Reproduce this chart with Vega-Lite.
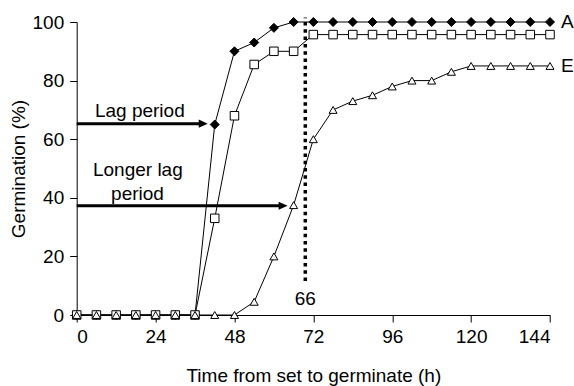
{
  "$schema": "https://vega.github.io/schema/vega-lite/v6.json",
  "width": 473.3,
  "height": 293,
  "autosize": {"type": "none"},
  "padding": {"left": 76.7, "top": 22, "right": 24, "bottom": 71},
  "background": "white",
  "config": {
    "view": {"stroke": null},
    "font": "Liberation Sans",
    "axis": {
      "grid": false,
      "domainColor": "black",
      "domainWidth": 1,
      "tickColor": "black",
      "tickWidth": 1,
      "tickSize": 7,
      "labelColor": "black",
      "labelFont": "Liberation Sans",
      "labelFontSize": 19,
      "titleColor": "black",
      "titleFont": "Liberation Sans",
      "titleFontSize": 19,
      "titleFontWeight": "normal"
    }
  },
  "datasets": {
    "series": [
      {"series": "A", "t": 0, "g": 0}, {"series": "A", "t": 6, "g": 0}, {"series": "A", "t": 12, "g": 0}, {"series": "A", "t": 18, "g": 0}, {"series": "A", "t": 24, "g": 0}, {"series": "A", "t": 30, "g": 0}, {"series": "A", "t": 36, "g": 0},
      {"series": "A", "t": 42, "g": 65}, {"series": "A", "t": 48, "g": 90}, {"series": "A", "t": 54, "g": 93}, {"series": "A", "t": 60, "g": 98}, {"series": "A", "t": 66, "g": 100},
      {"series": "A", "t": 72, "g": 100}, {"series": "A", "t": 78, "g": 100}, {"series": "A", "t": 84, "g": 100}, {"series": "A", "t": 90, "g": 100}, {"series": "A", "t": 96, "g": 100}, {"series": "A", "t": 102, "g": 100}, {"series": "A", "t": 108, "g": 100}, {"series": "A", "t": 114, "g": 100}, {"series": "A", "t": 120, "g": 100}, {"series": "A", "t": 126, "g": 100}, {"series": "A", "t": 132, "g": 100}, {"series": "A", "t": 138, "g": 100}, {"series": "A", "t": 144, "g": 100},
      {"series": "B", "t": 0, "g": 0}, {"series": "B", "t": 6, "g": 0}, {"series": "B", "t": 12, "g": 0}, {"series": "B", "t": 18, "g": 0}, {"series": "B", "t": 24, "g": 0}, {"series": "B", "t": 30, "g": 0}, {"series": "B", "t": 36, "g": 0},
      {"series": "B", "t": 42, "g": 33}, {"series": "B", "t": 48, "g": 68}, {"series": "B", "t": 54, "g": 85.5}, {"series": "B", "t": 60, "g": 90}, {"series": "B", "t": 66, "g": 90},
      {"series": "B", "t": 72, "g": 95.7}, {"series": "B", "t": 78, "g": 95.7}, {"series": "B", "t": 84, "g": 95.7}, {"series": "B", "t": 90, "g": 95.7}, {"series": "B", "t": 96, "g": 95.7}, {"series": "B", "t": 102, "g": 95.7}, {"series": "B", "t": 108, "g": 95.7}, {"series": "B", "t": 114, "g": 95.7}, {"series": "B", "t": 120, "g": 95.7}, {"series": "B", "t": 126, "g": 95.7}, {"series": "B", "t": 132, "g": 95.7}, {"series": "B", "t": 138, "g": 95.7}, {"series": "B", "t": 144, "g": 95.7},
      {"series": "E", "t": 0, "g": 0}, {"series": "E", "t": 6, "g": 0}, {"series": "E", "t": 12, "g": 0}, {"series": "E", "t": 18, "g": 0}, {"series": "E", "t": 24, "g": 0}, {"series": "E", "t": 30, "g": 0}, {"series": "E", "t": 36, "g": 0}, {"series": "E", "t": 42, "g": 0}, {"series": "E", "t": 48, "g": 0},
      {"series": "E", "t": 54, "g": 4.5}, {"series": "E", "t": 60, "g": 20}, {"series": "E", "t": 66, "g": 37.5}, {"series": "E", "t": 72, "g": 60}, {"series": "E", "t": 78, "g": 70}, {"series": "E", "t": 84, "g": 73}, {"series": "E", "t": 90, "g": 75}, {"series": "E", "t": 96, "g": 78}, {"series": "E", "t": 102, "g": 80}, {"series": "E", "t": 108, "g": 80}, {"series": "E", "t": 114, "g": 83}, {"series": "E", "t": 120, "g": 85},
      {"series": "E", "t": 126, "g": 85}, {"series": "E", "t": 132, "g": 85}, {"series": "E", "t": 138, "g": 85}, {"series": "E", "t": 144, "g": 85}
    ],
    "marker": [{"t": 69.55, "g": 11.6, "g2": 101.5, "label": "66", "gl": 3.4}],
    "arrows": [
      {"t": 0, "t2": 38.5, "g": 65.3},
      {"t": 0, "t2": 62.8, "g": 37.3}
    ],
    "notes": [
      {"t": 19.2, "g": 67.7, "text": "Lag period"},
      {"t": 18.6, "g": 47.4, "text": "Longer lag"},
      {"t": 18.5, "g": 39.2, "text": "period"}
    ],
    "ends": [
      {"t": 144, "g": 100, "text": "A"},
      {"t": 144, "g": 85, "text": "E"}
    ]
  },
  "layer": [
    {
      "data": {"name": "series"},
      "mark": {"type": "line", "color": "black", "strokeWidth": 1},
      "encoding": {
        "x": {"field": "t", "type": "quantitative", "scale": {"domain": [0, 144], "nice": false}, "axis": {"values": [0, 24, 48, 72, 96, 120, 144], "labelPadding": 5, "title": "Time from set to germinate (h)", "titleBaseline": "alphabetic", "titleY": 66.5}},
        "y": {"field": "g", "type": "quantitative", "scale": {"domain": [0, 100], "nice": false}, "axis": {"values": [0, 20, 40, 60, 80, 100], "labelPadding": 6, "title": "Germination (%)", "titleAngle": -90, "titleBaseline": "alphabetic", "titleAlign": "center", "titleX": -52, "titleY": 146.5}},
        "detail": {"field": "series", "type": "nominal"}
      }
    },
    {
      "data": {"name": "marker"},
      "mark": {"type": "rule", "color": "black", "strokeWidth": 3.5, "strokeDash": [3.5, 3.8]},
      "encoding": {
        "x": {"field": "t", "type": "quantitative"},
        "y": {"field": "g", "type": "quantitative"},
        "y2": {"field": "g2"}
      }
    },
    {
      "data": {"name": "series"},
      "mark": {"type": "point", "filled": true, "stroke": "black", "strokeWidth": 1, "opacity": 1},
      "encoding": {
        "x": {"field": "t", "type": "quantitative"},
        "y": {"field": "g", "type": "quantitative"},
        "shape": {"field": "series", "type": "nominal", "scale": {"domain": ["A", "B", "E"], "range": ["diamond", "square", "triangle-up"]}, "legend": null},
        "fill": {"field": "series", "type": "nominal", "scale": {"domain": ["A", "B", "E"], "range": ["black", "white", "white"]}, "legend": null},
        "size": {"field": "series", "type": "nominal", "scale": {"domain": ["A", "B", "E"], "range": [81, 64, 100]}, "legend": null}
      }
    },
    {
      "data": {"name": "arrows"},
      "mark": {"type": "rule", "color": "black", "strokeWidth": 3},
      "encoding": {
        "x": {"field": "t", "type": "quantitative"},
        "x2": {"field": "t2"},
        "y": {"field": "g", "type": "quantitative"}
      }
    },
    {
      "data": {"name": "arrows"},
      "mark": {"type": "point", "shape": "M-1,-0.9L1,0L-1,0.9Z", "filled": true, "fill": "black", "strokeWidth": 0, "size": 81, "opacity": 1},
      "encoding": {
        "x": {"field": "t2", "type": "quantitative"},
        "y": {"field": "g", "type": "quantitative"}
      }
    },
    {
      "data": {"name": "notes"},
      "mark": {"type": "text", "color": "black", "fontSize": 19, "align": "center", "baseline": "alphabetic", "font": "Liberation Sans"},
      "encoding": {
        "x": {"field": "t", "type": "quantitative"},
        "y": {"field": "g", "type": "quantitative"},
        "text": {"field": "text"}
      }
    },
    {
      "data": {"name": "marker"},
      "mark": {"type": "text", "color": "black", "fontSize": 19, "align": "center", "baseline": "alphabetic", "font": "Liberation Sans"},
      "encoding": {
        "x": {"field": "t", "type": "quantitative"},
        "y": {"field": "gl", "type": "quantitative"},
        "text": {"field": "label"}
      }
    },
    {
      "data": {"name": "ends"},
      "mark": {"type": "text", "color": "black", "fontSize": 19, "align": "left", "baseline": "middle", "dx": 11, "font": "Liberation Sans"},
      "encoding": {
        "x": {"field": "t", "type": "quantitative"},
        "y": {"field": "g", "type": "quantitative"},
        "text": {"field": "text"}
      }
    }
  ]
}
